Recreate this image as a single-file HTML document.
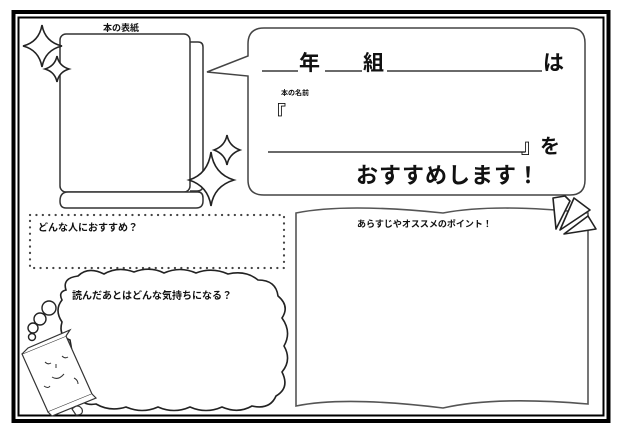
<!DOCTYPE html>
<html><head><meta charset="utf-8"><style>
body{margin:0;background:#fff}
svg{display:block}
text{font-family:"Liberation Sans","Noto Sans CJK JP",sans-serif;font-weight:bold;fill:#111}
</style></head><body>
<svg width="620" height="436" viewBox="0 0 620 436" xmlns="http://www.w3.org/2000/svg">
<rect x="0" y="0" width="620" height="436" fill="#fff"/>
<rect x="13.5" y="12" width="595" height="409" fill="none" stroke="#000" stroke-width="4"/>
<rect x="18.5" y="17.5" width="585" height="398" fill="none" stroke="#000" stroke-width="2"/>

<!-- book cover -->
<text x="103" y="31" font-size="9">本の表紙</text>
<path d="M190 42 h8 q5 0 5 5 v138 q0 6 -6 6 h-7" fill="#fff" stroke="#333" stroke-width="1.5"/>
<rect x="60" y="34" width="130" height="158" rx="6" fill="#fff" stroke="#333" stroke-width="1.5"/>
<path d="M68 192 h130 q5 0 5 6 v3 q0 7 -7 7 h-130 q-6 0 -6 -7 q0 -9 8 -9z" fill="#fff" stroke="#333" stroke-width="1.5"/>

<!-- stars -->
<g fill="#fff" stroke="#222" stroke-width="1.6">
<path d="M42 25 Q45 42 62 46 Q45 50 42 67 Q39 50 23 46 Q39 42 42 25Z"/>
<path d="M57 56 Q59 66 69 69 Q59 72 57 82 Q55 72 45 69 Q55 66 57 56Z"/>
<path d="M227 135 Q229 146 240 150 Q229 154 227 165 Q225 154 214 150 Q225 146 227 135Z"/>
<path d="M211 152 Q214 174 234 180 Q214 186 211 206 Q208 186 189 180 Q208 174 211 152Z"/>
</g>

<!-- speech bubble -->
<path d="M264 28 H570 Q585 28 585 43 V180 Q585 195 570 195 H264 Q248 195 248 180 V76 L207 72 L248 56 V44 Q248 28 264 28Z" fill="#fff" stroke="#444" stroke-width="1.5"/>
<g stroke="#111" stroke-width="1.3">
<line x1="262" y1="71" x2="298" y2="71"/>
<line x1="325" y1="71" x2="362" y2="71"/>
<line x1="387" y1="71" x2="542" y2="71"/>
<line x1="268" y1="152" x2="525" y2="152"/>
</g>
<text x="299" y="70" font-size="21">年</text>
<text x="363" y="70" font-size="21">組</text>
<text x="543" y="70" font-size="21">は</text>
<text x="281" y="95" font-size="7">本の名前</text>
<text x="266" y="120" font-size="20" font-weight="normal">『</text>
<text x="521" y="153" font-size="20" font-weight="normal">』</text>
<text x="540" y="153" font-size="20">を</text>
<text x="356" y="183" font-size="22" letter-spacing="1">おすすめします！</text>

<!-- dotted box -->
<rect x="30" y="215" width="254" height="53" fill="none" stroke="#444" stroke-width="2.2" stroke-dasharray="0.1 6.3" stroke-linecap="round"/>
<text x="38" y="231" font-size="10">どんな人におすすめ？</text>

<!-- cloud -->
<path d="M66 290 Q62 278 78 276 Q88 266 104 274 Q118 266 134 272 Q150 266 164 273 Q180 266 196 273 Q212 267 228 274 Q246 270 258 280 Q276 280 278 296 Q290 306 282 318 Q292 332 284 346 Q292 360 282 372 Q290 388 276 396 Q270 410 252 406 Q238 414 222 407 Q206 414 190 407 Q174 414 158 407 Q142 414 126 407 Q110 412 96 404 Q84 406 80 398 L70 340 Q58 336 62 322 Q54 310 62 300 Q58 292 66 290Z" fill="#fff" stroke="#222" stroke-width="1.6"/>
<g fill="#fff" stroke="#222" stroke-width="1.4">
<circle cx="49" cy="308" r="7"/><circle cx="40" cy="319" r="6"/><circle cx="33" cy="328" r="5"/><circle cx="32" cy="337" r="3.5"/>
</g>
<text x="72" y="299" font-size="10">読んだあとはどんな気持ちになる？</text>

<!-- book character -->
<g fill="#fff" stroke="#333" stroke-width="1.2">
<path d="M22 354 L66 336 L92 394 L48 412Z"/>
<path d="M22 354 L28 348 L70 330 L66 336"/>
<path d="M48 412 L52 416 L96 398 L92 394"/>
<path d="M72 409 q6 -6 10 0 q2 6 -6 6z"/>
</g>
<g fill="none" stroke="#333" stroke-width="1">
<path d="M45 362 q3 3 6 1"/><path d="M62 356 q3 3 6 1"/>
<path d="M56 364 v4"/><path d="M52 377 q6 4 12 -3"/>
<path d="M44 386 q4 3 6 0"/><path d="M74 378 q4 2 4 6"/>
</g>

<!-- open book -->
<path d="M296 213 Q345 203 443 213 Q495 203 588 213 V404 Q495 396 443 408 Q345 396 296 406Z" fill="#fff" stroke="#555" stroke-width="1.6"/>
<text x="357" y="227" font-size="9">あらすじやオススメのポイント！</text>

<!-- paper plane fan -->
<g fill="#fff" stroke="#222" stroke-width="1.6" stroke-linejoin="round">
<path d="M553 198 L565 196 L570 201 L556 229 Z"/>
<path d="M560 230 L574 198 L590 210 Z"/>
<path d="M564 234 L588 216 L596 229 Z"/>
</g>
</svg>
</body></html>
